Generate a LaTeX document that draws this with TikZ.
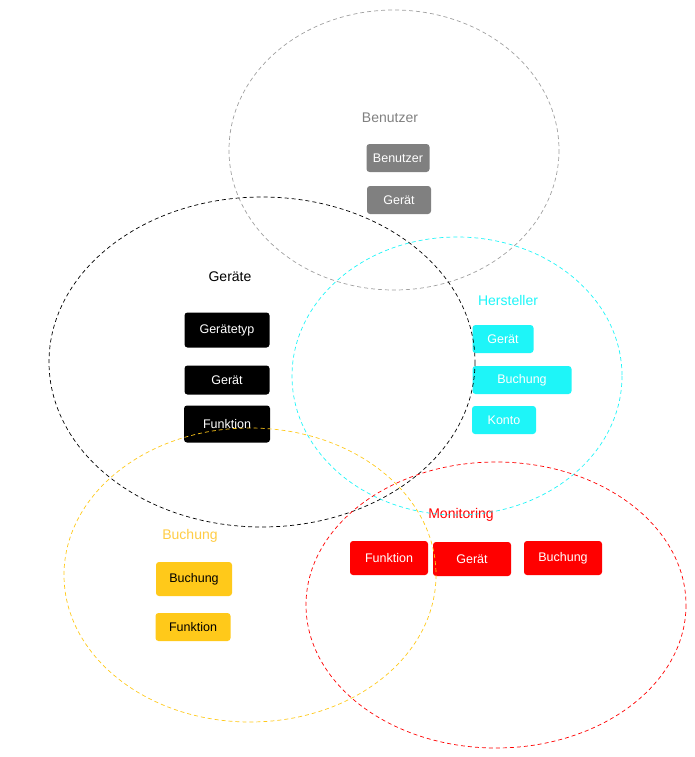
\documentclass[tikz,border=0pt]{standalone}
\usepackage{fontspec}
\setmainfont{Liberation Sans}
\definecolor{grau}{HTML}{808080}
\definecolor{graulinie}{HTML}{A0A0A0}
\definecolor{tuerkis}{HTML}{1EF5F8}
\definecolor{gelb}{HTML}{FFC91A}
\definecolor{gelbtitel}{HTML}{FFCC44}
\definecolor{rot}{HTML}{FF0000}
\tikzset{
  kasten/.style={rounded corners=3pt, inner sep=0pt, text=white,
    font=\fontsize{12.5}{14}\selectfont},
  titel/.style={font=\fontsize{14}{16}\selectfont},
  bereich/.style={line width=0.7pt, dash pattern=on 4pt off 3pt}
}
\begin{document}
\begin{tikzpicture}[x=1pt, y=-1pt]
  \useasboundingbox (0,0) rectangle (694,757);
  % Benutzer
  \node[titel, text=grau] (tbenutzer) at (390,118) {Benutzer};
  \node[kasten, fill=grau, minimum width=63pt, minimum height=28pt] (bbenutzer) at (398,158) {Benutzer};
  \node[kasten, fill=grau, minimum width=64pt, minimum height=28pt] (bgeraet) at (399,200) {Gerät};
  % Geraete
  \node[titel, text=black] (tgeraete) at (230,277) {Geräte};
  \node[kasten, fill=black, minimum width=85pt, minimum height=35pt] (ggeraetetyp) at (227,330) {Gerätetyp};
  \node[kasten, fill=black, minimum width=85pt, minimum height=29pt] (ggeraet) at (227,380) {Gerät};
  \node[kasten, fill=black, minimum width=86pt, minimum height=37pt] (gfunktion) at (227,424) {Funktion};
  % Hersteller
  \node[titel, text=tuerkis] (thersteller) at (508,300) {Hersteller};
  \node[kasten, fill=tuerkis, minimum width=61pt, minimum height=28pt] (hgeraet) at (503,339) {Gerät};
  \node[kasten, fill=tuerkis, minimum width=99pt, minimum height=28pt] (hbuchung) at (522,380) {Buchung};
  \node[kasten, fill=tuerkis, minimum width=64pt, minimum height=28pt] (hkonto) at (504,420) {Konto};
  % Buchung
  \node[titel, text=gelbtitel] (tbuchung) at (190,536) {Buchung};
  \node[kasten, fill=gelb, text=black, minimum width=76pt, minimum height=34pt] (ubuchung) at (194,579) {Buchung};
  \node[kasten, fill=gelb, text=black, minimum width=75pt, minimum height=28pt] (ufunktion) at (193,627) {Funktion};
  % Monitoring
  \node[titel, text=rot] (tmonitoring) at (461,515) {Monitoring};
  \node[kasten, fill=rot, minimum width=78pt, minimum height=34pt] (mfunktion) at (389,558) {Funktion};
  \node[kasten, fill=rot, minimum width=78pt, minimum height=34pt] (mgeraet) at (472,559) {Gerät};
  \node[kasten, fill=rot, minimum width=78pt, minimum height=34pt] (mbuchung) at (563,558) {Buchung};
  % Bereiche
  \draw[bereich, graulinie] (394,150) ellipse [x radius=165, y radius=140];
  \draw[bereich, black] (262,362) ellipse [x radius=213, y radius=165];
  \draw[bereich, tuerkis] (457,376) ellipse [x radius=165, y radius=139];
  \draw[bereich, gelb] (250,575) ellipse [x radius=186, y radius=147];
  \draw[bereich, rot] (496,605) ellipse [x radius=190, y radius=143];
\end{tikzpicture}
\end{document}
